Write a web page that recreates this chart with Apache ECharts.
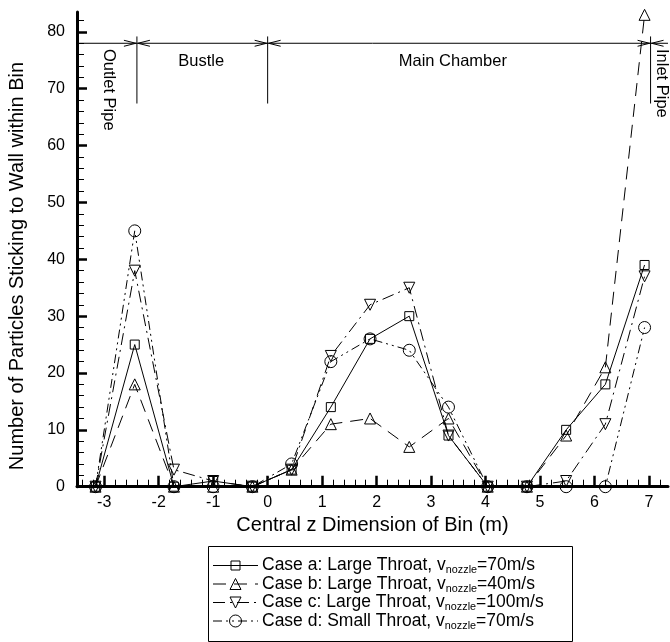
<!DOCTYPE html>
<html><head><meta charset="utf-8">
<script src="https://cdn.jsdelivr.net/npm/echarts@6/dist/echarts.min.js"></script>
<style>html,body{margin:0;padding:0;background:#fff}#c{width:670px;height:642px}</style>
</head><body><div id="c"></div>
<script>
// ---- data ----
const zBins = [-3.16, -2.44, -1.72, -1.00, -0.28, 0.44, 1.16, 1.88, 2.60, 3.32, 4.04, 4.76, 5.48, 6.20, 6.92];
const caseA = [0, 25, 0, 1, 0, 3, 14, 26, 30, 9, 0, 0, 10, 18, 39];
const caseB = [0, 18, 0, 0, 0, 3, 11, 12, 7, 12, 0, 0, 9, 21, 83];
const caseC = [0, 38, 3, 1, 0, 3, 23, 32, 35, 9, 0, 0, 1, 11, 37];
const caseD = [0, 45, 0, 0, 0, 4, 22, 26, 24, 14, 0, 0, 0, 0, 28];
const seriesNames = ['Case a', 'Case b', 'Case c', 'Case d'];
const legendPre = ['Case a: Large Throat, v', 'Case b: Large Throat, v', 'Case c: Large Throat, v', 'Case d: Small Throat, v'];
const legendSub = ['nozzle', 'nozzle', 'nozzle', 'nozzle'];
const legendPost = ['=70m/s', '=40m/s', '=100m/s', '=70m/s'];
const xMajorTicks = [-3, -2, -1, 0, 1, 2, 3, 4, 5, 6, 7];
const yMajorTicks = [0, 10, 20, 30, 40, 50, 60, 70, 80];
const regionBounds = [-2.4, 0, 7.03];
const bracketLevel = 78;
const regionNames = ['Outlet Pipe', 'Bustle', 'Main Chamber', 'Inlet Pipe'];
const regionZ = [-2.92, -1.22, 3.4, 7.24];
const regionV = [77.0, 74.8, 74.8, 77.0];
const regionVertical = [true, false, false, true];
const xTitle = 'Central z Dimension of Bin (m)';
const yTitle = 'Number of Particles Sticking to Wall within Bin';

// ---- styles ----
const seriesSymbols = ['rect', 'triangle', 'triangleDown', 'circle'];
const seriesDash = ['solid', [13, 8], [12, 5, 2, 5], [9, 4, 2, 4, 2, 4]];

// ---- derived ticks ----
const xMinorTicks = [];
for (let i = -17; i <= 36; i++) { if (i % 5 !== 0) xMinorTicks.push(+(i * 0.2).toFixed(2)); }
const yMinorTicks = [];
for (let i = 1; i <= 41; i++) { if (i % 5 !== 0) yMinorTicks.push(i * 2); }

const FONT = "'Liberation Sans', Arial, Helvetica, sans-serif";
const X_MIN = -3.5, X_MAX = 7.35, Y_MIN = 0, Y_MAX = 83.5;
const SEP_TOP = 79.2, SEP_BOTTOM = 67.4;

function mkSeries(i, vals) {
  const sym = seriesSymbols[i];
  return {
    type: 'line', name: seriesNames[i], xAxisIndex: 0, yAxisIndex: 0,
    data: zBins.map((z, k) => [z, vals[k]]),
    symbol: sym === 'triangleDown' ? 'triangle' : sym,
    symbolRotate: sym === 'triangleDown' ? 180 : 0,
    symbolSize: sym === 'rect' ? 9 : (sym === 'circle' ? 12 : 11),
    showSymbol: true,
    lineStyle: { color: '#000', width: 1, type: seriesDash[i] },
    itemStyle: { color: 'transparent', borderColor: '#000', borderWidth: 1 },
    emphasis: { disabled: true }, animation: false, z: 4
  };
}

// ---- hand-built legend (to allow the subscript) ----
const LEG = { x: 208, y: 546, w: 364, h: 95, row0: 565.5, step: 18.5, l1: 213, l2: 258, mx: 235.5, tx: 262, fs: 17.5, sfs: 10.8 };
const mctx = document.createElement('canvas').getContext('2d');
function textW(s, size) { mctx.font = size + 'px ' + FONT; return mctx.measureText(s).width; }
function legendMarker(kind, cx, cy) {
  const st = { fill: 'none', stroke: '#000', lineWidth: 1 };
  if (kind === 'rect') return { type: 'rect', shape: { x: cx - 4.5, y: cy - 4.5, width: 9, height: 9 }, style: st, z: 12 };
  if (kind === 'circle') return { type: 'circle', shape: { cx: cx, cy: cy, r: 6 }, style: st, z: 12 };
  const h = 5.5;
  const pts = kind === 'triangle'
    ? [[cx, cy - h], [cx + h, cy + h], [cx - h, cy + h]]
    : [[cx, cy + h], [cx + h, cy - h], [cx - h, cy - h]];
  return { type: 'polygon', shape: { points: pts }, style: st, z: 12 };
}
const legendEls = [{
  type: 'rect', shape: { x: LEG.x + 0.5, y: LEG.y + 0.5, width: LEG.w, height: LEG.h },
  style: { fill: '#fff', stroke: '#000', lineWidth: 1 }, z: 10
}];
seriesNames.forEach(function (n, i) {
  const cy = LEG.row0 + i * LEG.step;
  const dash = seriesDash[i] === 'solid' ? null : seriesDash[i];
  legendEls.push({ type: 'line', shape: { x1: LEG.l1, y1: cy, x2: LEG.l2, y2: cy },
    style: { stroke: '#000', lineWidth: 1, lineDash: dash }, z: 11 });
  legendEls.push(legendMarker(seriesSymbols[i], LEG.mx, cy));
  let x = LEG.tx;
  legendEls.push({ type: 'text', x: x, y: cy, z: 12,
    style: { text: legendPre[i], font: LEG.fs + 'px ' + FONT, fill: '#000', align: 'left', verticalAlign: 'middle' } });
  x += textW(legendPre[i], LEG.fs);
  legendEls.push({ type: 'text', x: x, y: cy + 5, z: 12,
    style: { text: legendSub[i], font: LEG.sfs + 'px ' + FONT, fill: '#000', align: 'left', verticalAlign: 'middle' } });
  x += textW(legendSub[i], LEG.sfs);
  legendEls.push({ type: 'text', x: x, y: cy, z: 12,
    style: { text: legendPost[i], font: LEG.fs + 'px ' + FONT, fill: '#000', align: 'left', verticalAlign: 'middle' } });
});

const grid = { left: 77, right: 2, top: 12, bottom: 155.3 };
const axisBaseX = { type: 'value', min: X_MIN, max: X_MAX, splitLine: { show: false } };
const axisBaseY = { type: 'value', min: Y_MIN, max: Y_MAX, splitLine: { show: false } };

const chart = echarts.init(document.getElementById('c'), null, { renderer: 'canvas' });
chart.setOption({
  animation: false,
  backgroundColor: '#fff',
  textStyle: { fontFamily: FONT, color: '#000' },
  grid: [Object.assign({}, grid), Object.assign({}, grid)],
  xAxis: [
    Object.assign({}, axisBaseX, {
      gridIndex: 0, position: 'bottom',
      axisLine: { show: true, onZero: false, lineStyle: { color: '#000', width: 3 } },
      axisTick: { show: true, inside: true, length: 11, lineStyle: { color: '#000', width: 2.5 }, customValues: xMajorTicks },
      axisLabel: { show: true, customValues: xMajorTicks, fontSize: 16, margin: 8, color: '#000', fontFamily: FONT },
      name: xTitle, nameLocation: 'middle', nameGap: 29,
      nameTextStyle: { fontSize: 20, color: '#000', fontFamily: FONT }
    }),
    Object.assign({}, axisBaseX, {
      gridIndex: 1, position: 'bottom',
      axisLine: { show: false, onZero: false },
      axisTick: { show: true, inside: true, length: 7, lineStyle: { color: '#000', width: 1 }, customValues: xMinorTicks },
      axisLabel: { show: false }
    })
  ],
  yAxis: [
    Object.assign({}, axisBaseY, {
      gridIndex: 0, position: 'left',
      axisLine: { show: true, onZero: false, lineStyle: { color: '#000', width: 3 } },
      axisTick: { show: true, inside: true, length: 10, lineStyle: { color: '#000', width: 2.5 }, customValues: yMajorTicks },
      axisLabel: { show: true, customValues: yMajorTicks, fontSize: 16, margin: 12, color: '#000', fontFamily: FONT }
    }),
    Object.assign({}, axisBaseY, {
      gridIndex: 1, position: 'left',
      axisLine: { show: false, onZero: false },
      axisTick: { show: true, inside: true, length: 7, lineStyle: { color: '#000', width: 1 }, customValues: yMinorTicks },
      axisLabel: { show: false }
    })
  ],
  series: [
    mkSeries(0, caseA),
    mkSeries(1, caseB),
    mkSeries(2, caseC),
    mkSeries(3, caseD),
    {
      type: 'line', name: 'bracket', xAxisIndex: 0, yAxisIndex: 0,
      data: [[X_MIN, bracketLevel], [X_MAX, bracketLevel]],
      symbol: 'none', lineStyle: { color: '#000', width: 1 }, silent: true, z: 3
    },
    {
      type: 'custom', name: 'bounds', xAxisIndex: 0, yAxisIndex: 0, silent: true, clip: false, z: 3,
      data: regionBounds.map(b => [b, bracketLevel]),
      renderItem: function (params, api) {
        const x = api.value(0);
        const t = api.coord([x, SEP_TOP]), b = api.coord([x, SEP_BOTTOM]), m = api.coord([x, api.value(1)]);
        const st = { stroke: '#000', fill: null, lineWidth: 1 };
        return { type: 'group', children: [
          { type: 'line', shape: { x1: t[0], y1: t[1], x2: b[0], y2: b[1] }, style: st },
          { type: 'polyline', shape: { points: [[m[0] - 13, m[1] - 3], [m[0] - 1, m[1]], [m[0] - 13, m[1] + 3]] }, style: st },
          { type: 'polyline', shape: { points: [[m[0] + 13, m[1] - 3], [m[0] + 1, m[1]], [m[0] + 13, m[1] + 3]] }, style: st }
        ] };
      }
    },
    {
      type: 'custom', name: 'regions', xAxisIndex: 0, yAxisIndex: 0, silent: true, clip: false, z: 3,
      data: regionZ.map((z, i) => [z, regionV[i]]),
      renderItem: function (params, api) {
        const i = params.dataIndex;
        const p = api.coord([api.value(0), api.value(1)]);
        const vert = regionVertical[i];
        return {
          type: 'text', x: p[0], y: p[1], rotation: vert ? -Math.PI / 2 : 0,
          style: { text: regionNames[i], fontSize: 16.5, fontFamily: FONT, fill: '#000',
                   align: vert ? 'left' : 'center', verticalAlign: 'middle' }
        };
      }
    }
  ],
  graphic: [{
    type: 'text', x: 17, y: 266, rotation: Math.PI / 2,
    style: { text: yTitle, fontSize: 20, fontFamily: FONT, fill: '#000', align: 'center', verticalAlign: 'middle' }
  }].concat(legendEls)
});
</script></body></html>
